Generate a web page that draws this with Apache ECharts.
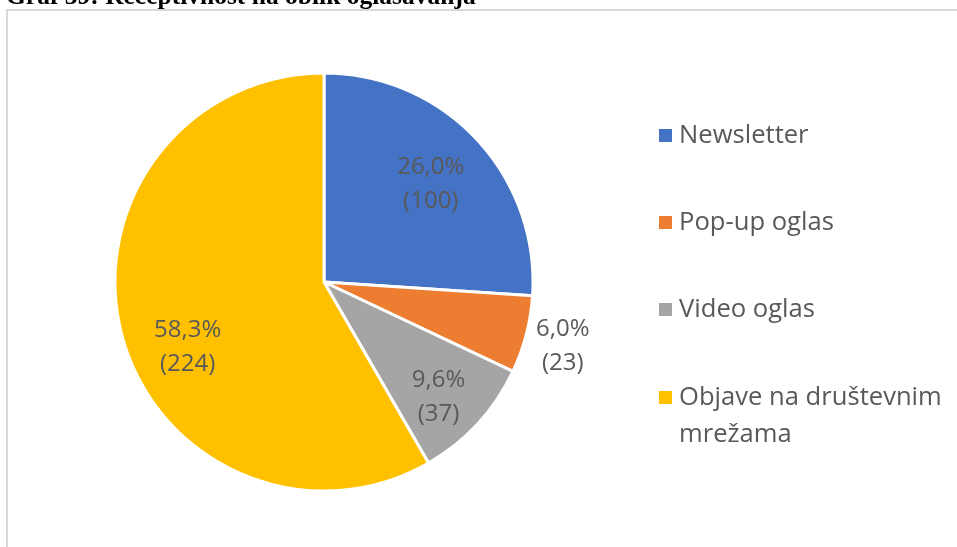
<!DOCTYPE html>
<html><head><meta charset="utf-8">
<script src="https://cdn.jsdelivr.net/npm/echarts@6/dist/echarts.min.js"></script>
<style>html,body{margin:0;padding:0;background:#fff;overflow:hidden}#c{width:957px;height:547px;}</style>
</head><body><div id="c"></div>
<script>
const titleText = 'Graf 39: Receptivnost na oblik oglašavanja';
const categories = ['Newsletter', 'Pop-up oglas', 'Video oglas', 'Objave na društevnim mrežama'];
const counts = [100, 23, 37, 224];
const colors = ['#4472C4', '#ED7D31', '#A5A5A5', '#FFC000'];

const total = counts.reduce((a, b) => a + b, 0);
const CX = 324, CY = 282, R = 209;
const labelRadius = [0.70, 1.18, 0.77, 0.72];
const labelAngleShift = [0, 0, -2, 10];
function midAngle(i) {
  let cum = 0;
  for (let k = 0; k < i; k++) cum += counts[k];
  return 90 - (cum + counts[i] / 2) / total * 360;
}
const FONT = '"Open Sans", "Noto Sans", sans-serif';

const chart = echarts.init(document.getElementById('c'), null, {renderer: 'canvas'});
chart.setOption({
  animation: false,
  backgroundColor: '#fff',
  title: {
    text: titleText, left: 6, top: -16, padding: 0,
    textStyle: {fontFamily: '"Liberation Serif", "Times New Roman", serif', fontWeight: 'bold', fontSize: 25.5, color: '#000'}
  },
  graphic: [{
    type: 'rect', z: -10, silent: true,
    shape: {x: 7, y: 10, width: 1000, height: 600},
    style: {fill: null, stroke: '#d9d9d9', lineWidth: 2}
  }],
  legend: [{
    orient: 'vertical', left: 652, top: 112, itemWidth: 15, itemHeight: 15, itemGap: 50,
    icon: 'rect', selectedMode: false,
    data: categories.slice(0, 3),
    textStyle: {fontFamily: FONT, fontSize: 25.6, color: '#595959', lineHeight: 37, padding: [0, 0, 0, 1]}
  }, {
    orient: 'vertical', left: 652, top: 337, itemWidth: 15, itemHeight: 15,
    icon: 'rect', selectedMode: false,
    data: categories.slice(3),
    formatter: n => ' \n' + n.replace(' mrežama', '\nmrežama'),
    textStyle: {fontFamily: FONT, fontSize: 25.6, color: '#595959', lineHeight: 37, padding: [0, 0, 0, 1]}
  }],
  series: [{
    type: 'pie',
    center: [CX, CY], radius: [0, R],
    startAngle: 90, clockwise: true,
    silent: true,
    itemStyle: {borderColor: '#fff', borderWidth: 3},
    label: {
      show: true, position: 'inside',
      fontFamily: FONT, fontSize: 24, color: '#595959', lineHeight: 34,
      formatter: p => (p.value / total * 100).toFixed(1).replace('.', ',') + '%\n(' + p.value + ')'
    },
    labelLine: {show: false},
    labelLayout: function (p) {
      const i = p.dataIndex;
      const a = (midAngle(i) + labelAngleShift[i]) * Math.PI / 180;
      const d = R * labelRadius[i];
      return {x: CX + d * Math.cos(a), y: CY - d * Math.sin(a) + 2, align: 'center', verticalAlign: 'middle'};
    },
    data: categories.map((c, i) => ({name: c, value: counts[i], itemStyle: {color: colors[i]}}))
  }]
});
</script></body></html>
